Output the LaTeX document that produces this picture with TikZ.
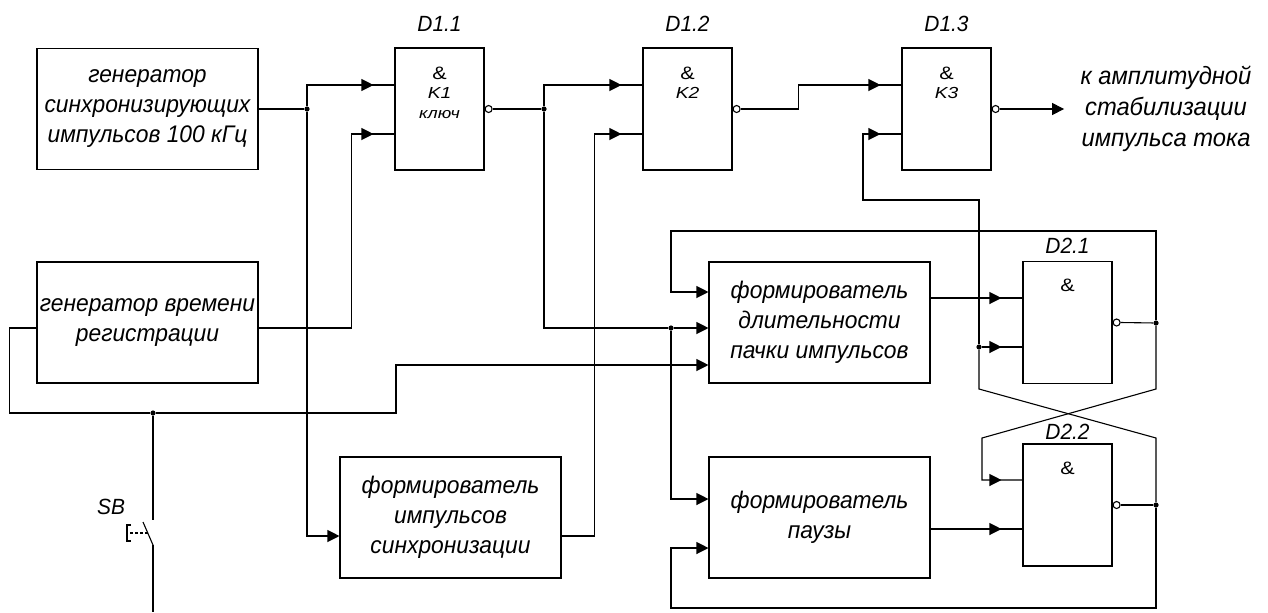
\documentclass[tikz,border=0pt]{standalone}
\usepackage{fontspec}
\setmainfont{Liberation Sans}[FakeStretch=0.95]
\newfontfamily\gatefont{Liberation Sans}[FakeStretch=1.2]
\usetikzlibrary{positioning}
\usetikzlibrary{arrows.meta}
\usetikzlibrary{decorations.markings}

\tikzset{
  blk/.style={draw, minimum width=110.5pt, minimum height=60.5pt, inner sep=0pt, align=center, font=\itshape\fontsize{12}{15}\selectfont},
  gate/.style={draw, minimum width=44.5pt, minimum height=61pt, inner sep=0pt},
  gtxt/.style={inner sep=0pt, align=center, font=\gatefont\fontsize{9}{9.75}\selectfont},
  lbl/.style={inner sep=0pt, font=\itshape\fontsize{11}{12}\selectfont},
  otxt/.style={inner xsep=8pt, inner ysep=0pt, align=center, font=\itshape\fontsize{12.5}{15.5}\selectfont},
  inv/.style={draw, circle, fill=white, inner sep=0pt, minimum size=3.5pt},
  jdot/.style={circle, fill, inner sep=0pt, minimum size=2.6pt},
  gin/.style={postaction={decorate}, decoration={markings, mark=at position -10.5pt with {\arrow{Triangle[length=6pt,width=6pt]}}}},
}

\begin{document}
\begin{tikzpicture}[x=0.5pt, y=-0.5pt, line width=0.55pt, >={Triangle[length=6pt,width=6pt]}]
      \useasboundingbox (0,0) rectangle (1268,612);

      \node[blk]  (gsync) at (147.5,109)   {генератор\\синхронизирующих\\импульсов 100 кГц};
      \node[blk]  (gtime) at (147.5,322.5) {генератор времени\\регистрации};
      \node[blk]  (fsync) at (450.5,517.5) {формирователь\\импульсов\\синхронизации};
      \node[blk]  (fdl)   at (819.5,322.5) {формирователь\\длительности\\пачки импульсов};
      \node[blk]  (fp)    at (819.5,517.5) {формирователь\\паузы};

      \node[gate] (d11) at (439.5,109)    {};
      \node[gate] (d12) at (687.5,109)    {};
      \node[gate] (d13) at (946.5,109)    {};
      \node[gate] (d21) at (1067.5,322.5) {};
      \node[gate] (d22) at (1067.5,505)   {};

      \node[gtxt] (d11t) [below=9.5pt of d11.north] {\&\\{\fontsize{8}{9}\selectfont\itshape K1}\\{\fontsize{7.5}{8}\selectfont\itshape ключ}};
      \node[gtxt] (d12t) [below=9.5pt of d12.north] {\&\\{\fontsize{8}{9}\selectfont\itshape K2}};
      \node[gtxt] (d13t) [below=9.5pt of d13.north] {\&\\{\fontsize{8}{9}\selectfont\itshape K3}};
      \node[gtxt] (d21t) [below=9pt of d21.north]   {\&};
      \node[gtxt] (d22t) [below=9pt of d22.north]   {\&};

      \node[lbl]  (d11l) [above=7.5pt of d11] {D1.1};
      \node[lbl]  (d12l) [above=7.5pt of d12] {D1.2};
      \node[lbl]  (d13l) [above=7.5pt of d13] {D1.3};
      \node[lbl]  (d21l) [above=3.5pt of d21] {D2.1};
      \node[lbl]  (d22l) [above=1.5pt of d22] {D2.2};

      \node[inv]  (d11o) [right=0pt of d11] {};
      \node[inv]  (d12o) [right=0pt of d12] {};
      \node[inv]  (d13o) [right=0pt of d13] {};
      \node[inv]  (d21o) [right=0pt of d21] {};
      \node[inv]  (d22o) [right=0pt of d22] {};

      \node[otxt] (outtxt) at (1166,109) {к амплитудной\\стабилизации\\импульса тока};

      \node[jdot] (j1) at (307,109)  {};
      \node[jdot] (j2) at (544,109)  {};
      \node[jdot] (j3) at (671,328)  {};
      \node[jdot] (j4) at (153,413)  {};
      \node[jdot] (j5) at (1156,323) {};
      \node[jdot] (j6) at (1156,505) {};
      \node[jdot] (j7) at (979,347)  {};

      \draw (gsync) -- (j1);
      \draw[gin] (j1) |- ([yshift=12pt]d11.west);
      \draw[->] (j1) |- ([yshift=-9.25pt]fsync.west);
      \draw[gin] ([yshift=-2.75pt]gtime.east) -- ++(93,0) |- ([yshift=-12.5pt]d11.west);

      \draw (d11o) -- (j2);
      \draw[gin] (j2) |- ([yshift=12pt]d12.west);
      \draw (j2) |- (j3);
      \draw[->] (j3) -- (fdl.west |- j3);
      \draw[->] (j3) |- ([yshift=9.25pt]fp.west);
      \draw[gin] ([yshift=-9.25pt]fsync.east) -- ++(33,0) |- ([yshift=-12.5pt]d12.west);

      \draw[gin] (d12o.east) -- ++(58,0) |- ([yshift=12pt]d13.west);
      \draw[->] (d13o.east) -- (outtxt);

      \draw[->] ([yshift=-2.75pt]gtime.west) -- ++(-27,0) |- (j4) -- ++(243,0) |- ([yshift=-21.25pt]fdl.west);
      \draw (j4) -- (153,520);
      \draw (153,545) -- (153,612);
      \draw (153,545) -- (143,522);
      \draw[dash pattern=on 1.5pt off 1pt] (148,533) -- (127,533);
      \draw (131,525) -| (127,541) -- (131,541);
      \node[lbl]  (sb) at (111,507) {SB};

      \draw[gin] ([yshift=12.25pt]fdl.east) -- ([yshift=12.25pt]d21.west);
      \draw[gin] ([yshift=-5.75pt]fp.east) -- ([yshift=-12pt]d22.west);

      \draw (d21o.east) -- (j5);
      \draw[->] (j5) |- ++(-485,-92) |- ([yshift=15.25pt]fdl.west);
      \draw[gin] (j5) -- ++(0,66) -- ++(-174,49) |- ([yshift=12.5pt]d22.west);

      \draw (d22o.east) -- (j6);
      \draw (j6) -- ++(0,-67) -- ++(-177,-49) -- (j7);
      \draw[gin] (j7) -- ([yshift=-12.25pt]d21.west);
      \draw[gin] (j7) |- ++(-116,-147) |- ([yshift=-12.5pt]d13.west);
      \draw[->] (j6) |- ++(-485,103) |- ([yshift=-15.25pt]fp.west);
\end{tikzpicture}
\end{document}
